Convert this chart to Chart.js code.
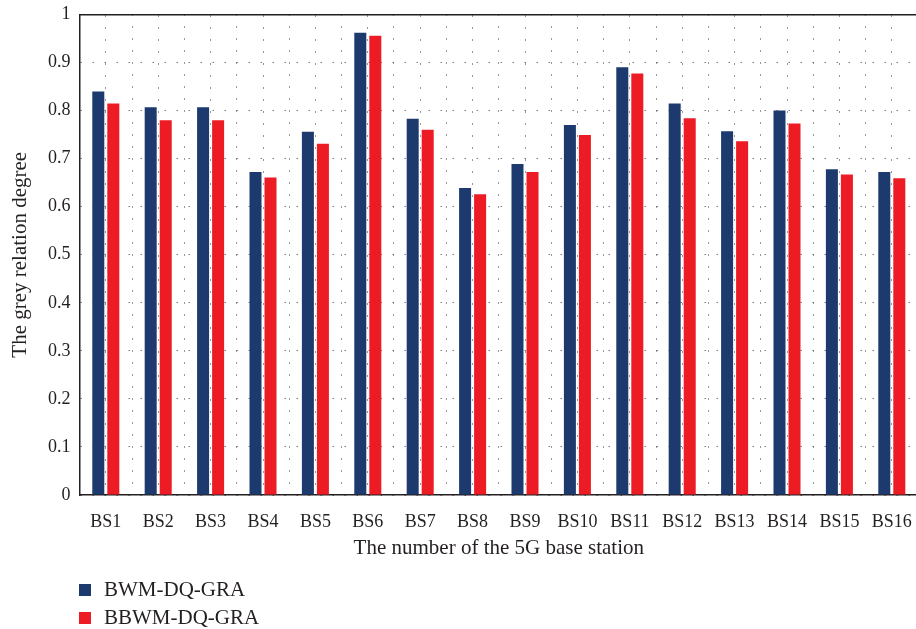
<!DOCTYPE html>
<html>
<head>
<meta charset="utf-8">
<script src="https://cdn.jsdelivr.net/npm/chart.js@4.4.0/dist/chart.umd.min.js"></script>
<style>
	html, body { margin: 0; padding: 0; background: #fff; overflow: hidden; }
	#wrapper { position: relative; width: 918px; height: 629px; }
	#legend { position: absolute; left: 79px; top: 575px; font-family: "Liberation Serif", serif; font-size: 21px; color: #231f20; }
	#legend div { height: 28px; line-height: 28px; }
	#legend span { display: inline-block; width: 12px; height: 12px; margin-right: 13px; vertical-align: 0px; }
</style>
</head>
<body>
<div id="wrapper">
	<canvas id="bar-grey" width="918" height="629"></canvas>
	<div id="legend"></div>
</div>
<script>
const stations = ["BS1", "BS2", "BS3", "BS4", "BS5", "BS6", "BS7", "BS8",
	"BS9", "BS10", "BS11", "BS12", "BS13", "BS14", "BS15", "BS16"];
const bwmDqGra = [0.840, 0.807, 0.807, 0.672, 0.756, 0.962, 0.783, 0.639,
	0.689, 0.770, 0.890, 0.815, 0.757, 0.800, 0.678, 0.672];
const bbwmDqGra = [0.815, 0.780, 0.780, 0.661, 0.731, 0.956, 0.760, 0.626,
	0.672, 0.749, 0.877, 0.784, 0.736, 0.773, 0.667, 0.659];

const serif = "'Liberation Serif', 'Times New Roman', serif";
const textColor = "#231f20";

// Legend drawn as html, stacked like the original
const htmlLegend = {
	id: "htmlLegend",
	afterUpdate(chart) {
		const el = document.getElementById("legend");
		while (el.firstChild) el.firstChild.remove();
		chart.data.datasets.forEach((ds) => {
			const row = document.createElement("div");
			const box = document.createElement("span");
			box.style.background = ds.backgroundColor;
			row.appendChild(box);
			row.appendChild(document.createTextNode(ds.label));
			el.appendChild(row);
		});
	},
};

let ctx = document.getElementById("bar-grey").getContext("2d");
let barChart = new Chart(ctx, {
	type: "bar",
	data: {
		labels: stations,
		datasets: [
			{ label: "BWM-DQ-GRA", data: bwmDqGra, backgroundColor: "#1c3a6e" },
			{ label: "BBWM-DQ-GRA", data: bbwmDqGra, backgroundColor: "#ed1c24" },
		],
	},
	options: {
		responsive: false,
		animation: false,
		devicePixelRatio: 1,
		categoryPercentage: 0.573,
		barPercentage: 0.8,
		layout: { padding: { left: 0, right: 0, top: 14, bottom: 68 } },
		scales: {
			x: {
				position: "bottom",
				grid: {
					offset: true,
					// invisible ticks just to push the labels down
					drawTicks: true,
					tickLength: 14,
					tickColor: "rgba(0,0,0,0)",
					color: "rgba(0,0,0,0.8)",
					lineWidth: 1,
				},
				// in v4 the grid dash lives on border
				border: { display: true, color: textColor, width: 1.5, dash: [1, 11], dashOffset: 0 },
				ticks: {
					padding: 2,
					color: textColor,
					font: { family: serif, size: 18 },
				},
				title: {
					display: true,
					text: "The number of the 5G base station",
					color: textColor,
					font: { family: serif, size: 21 },
					padding: { top: 0, bottom: 0 },
				},
				afterFit: (scale) => { scale.height = 66; },
			},
			xTop: {
				type: "category",
				position: "top",
				labels: stations,
				grid: {
					offset: false,
					drawTicks: false,
					color: "rgba(0,0,0,0.8)",
					lineWidth: 1,
				},
				border: { display: true, color: textColor, width: 1.5, dash: [1, 11], dashOffset: 0 },
				ticks: { display: false, padding: 0 },
				afterFit: (scale) => { scale.height = 0.5; },
			},
			y: {
				min: 0,
				max: 1,
				ticks: {
					stepSize: 0.1,
					padding: 2,
					color: textColor,
					font: { family: serif, size: 18 },
					callback: (v) => (Math.round(v * 10) / 10).toString(),
				},
				grid: {
					drawTicks: true,
					tickLength: 7,
					tickColor: "rgba(0,0,0,0)",
					color: "rgba(100,100,100,0.85)",
					lineWidth: 1,
				},
				border: { display: true, color: textColor, width: 1.5, dash: [1.5, 10.5] },
				title: {
					display: true,
					text: "The grey relation degree",
					color: textColor,
					font: { family: serif, size: 21 },
					padding: { top: 8, bottom: 0 },
				},
				afterFit: (scale) => { scale.width = 79.6; },
			},
		},
		plugins: {
			legend: { display: false },
			tooltip: { enabled: false },
		},
	},
	plugins: [htmlLegend],
});
</script>
</body>
</html>
